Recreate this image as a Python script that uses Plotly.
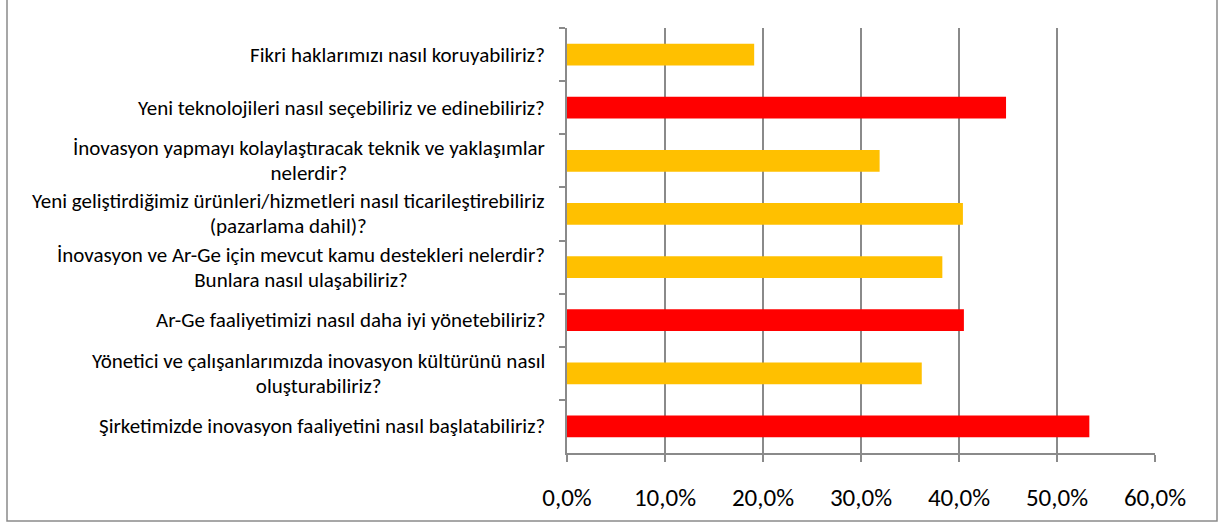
import plotly.graph_objects as go

# data, listed top to bottom as shown in the chart
questions = [
    "Fikri haklarımızı nasıl koruyabiliriz?",
    "Yeni teknolojileri nasıl seçebiliriz ve edinebiliriz?",
    "İnovasyon yapmayı kolaylaştıracak teknik ve yaklaşımlar<br>nelerdir?",
    "Yeni geliştirdiğimiz ürünleri/hizmetleri nasıl ticarileştirebiliriz<br>(pazarlama dahil)?",
    "İnovasyon ve Ar-Ge için mevcut kamu destekleri nelerdir?<br>Bunlara nasıl ulaşabiliriz?",
    "Ar-Ge faaliyetimizi nasıl daha iyi yönetebiliriz?",
    "Yönetici ve çalışanlarımızda inovasyon kültürünü nasıl<br>oluşturabiliriz?",
    "Şirketimizde inovasyon faaliyetini nasıl başlatabiliriz?",
]
shares = [0.191, 0.448, 0.319, 0.404, 0.383, 0.405, 0.362, 0.533]
x_ticks = [0, 0.1, 0.2, 0.3, 0.4, 0.5, 0.6]

# the three most chosen questions are highlighted in red
top3 = sorted(shares, reverse=True)[:3]
colors = ["#FF0000" if v in top3 else "#FFC000" for v in shares]

FONT = "Carlito, Calibri, 'Open Sans', sans-serif"
GRID = "#8a8a8a"

W, H = 1224, 531
L, R, T, B = 567, 69, 28, 78
pw, ph = W - L - R, H - T - B

fig = go.Figure(go.Bar(
    x=shares,
    y=questions,
    orientation="h",
    marker_color=colors,
    marker_line_width=0,
    hovertemplate="%{y}<br>%{x:.1%}<extra></extra>",
))

# category labels: right-anchored, lines centred like the original.
# glyphs at 21px, line spacing taken from a 19px base
for q in questions:
    txt = "<br>".join(f"<span style='font-size:21px'>{ln}</span>" for ln in q.split("<br>"))
    fig.add_annotation(
        x=0, xref="paper", y=q, yref="y",
        xanchor="right", xshift=-20, align="center",
        text=txt, showarrow=False,
        font=dict(family=FONT, size=19, color="#000000"),
    )

# outer chart frame
fig.add_shape(
    type="rect", xref="paper", yref="paper",
    x0=(7 - L) / pw, x1=(1217 - L) / pw,
    y0=(T + ph - 521) / ph, y1=(T + ph + 2) / ph,
    line=dict(color=GRID, width=1.5), fillcolor="rgba(0,0,0,0)",
)

fig.update_layout(
    width=W, height=H,
    margin=dict(l=L, r=R, t=T, b=B, pad=0),
    paper_bgcolor="white", plot_bgcolor="white",
    separators=",.",
    bargap=0.59,
    showlegend=False,
    font=dict(family=FONT, color="#000000"),
    xaxis=dict(
        range=[0, 0.6], tickvals=x_ticks, tickformat=".1%",
        showgrid=True, gridcolor=GRID, gridwidth=1.5,
        showline=True, linecolor=GRID, linewidth=1.5,
        ticks="outside", ticklen=7, tickcolor=GRID, tickwidth=1.5,
        tickfont=dict(family=FONT, size=25, color="#000000"),
        ticklabelstandoff=14, zeroline=False,
    ),
    yaxis=dict(
        autorange="reversed", showticklabels=False,
        showgrid=False, zeroline=False,
        showline=True, linecolor=GRID, linewidth=1.5,
        ticks="outside", ticklen=6, tickcolor=GRID, tickwidth=1.5,
        tickson="boundaries",
    ),
)

fig.write_html("out.html", config={"displayModeBar": False},
               post_script="document.body.style.margin='0px';")
